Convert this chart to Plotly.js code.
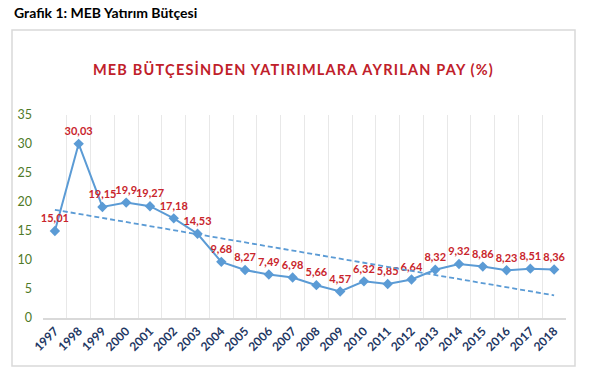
<!DOCTYPE html>
<html>
<head>
<meta charset="utf-8">
<script src="https://cdn.plot.ly/plotly-3.0.1.min.js"></script>
<style>html,body{margin:0;padding:0;background:#fff;} #chart{width:608px;height:376px;}</style>
</head>
<body>
<div id="chart"></div>
<script>
const years = ['1997','1998','1999','2000','2001','2002','2003','2004','2005','2006','2007','2008','2009','2010','2011','2012','2013','2014','2015','2016','2017','2018'];
const shares = [15.01,30.03,19.15,19.9,19.27,17.18,14.53,9.68,8.27,7.49,6.98,5.66,4.57,6.32,5.85,6.64,8.32,9.32,8.86,8.23,8.51,8.36];
const yTicks = [0,5,10,15,20,25,30,35];

const idx = years.map((_, i) => i);
// linear trend line (least squares) from the data
const n = shares.length;
const mx = idx.reduce((a,b)=>a+b,0)/n;
const my = shares.reduce((a,b)=>a+b,0)/n;
let sxy = 0, sxx = 0;
for (let i = 0; i < n; i++) { sxy += (idx[i]-mx)*(shares[i]-my); sxx += (idx[i]-mx)*(idx[i]-mx); }
const slope = sxy/sxx, icpt = my - slope*mx;
const trendX = [idx[0], idx[n-1]];
const trendY = trendX.map(x => icpt + slope*x);
const gridVals = idx.concat([n-1]).map(i => i - 0.5);

const FONT = 'Lato, "Open Sans", sans-serif';

const traces = [
  {
    x: trendX, y: trendY, xaxis: 'x2', yaxis: 'y', mode: 'lines',
    line: {color: '#5B9BD5', width: 1.8, dash: '5px,3px'}, hoverinfo: 'skip', showlegend: false
  },
  {
    x: idx, y: shares, mode: 'lines+markers+text',
    line: {color: '#5B9BD5', width: 2},
    marker: {symbol: 'diamond', size: 8, color: '#5B9BD5'},
    texttemplate: '%{y}', textposition: 'top center',
    textfont: {family: FONT, size: 11, color: '#C9252C', weight: 'bold'},
    cliponaxis: false, showlegend: false
  }
];

const pl = 43, pr = 566, pt = 115, pb = 318;
const W = pr - pl, H = pb - pt;
const px = v => (v - pl)/W, py = v => (pb - v)/H;

const layout = {
  width: 608, height: 376,
  margin: {l: pl, r: 608 - pr, t: pt, b: 376 - pb},
  paper_bgcolor: '#fff', plot_bgcolor: '#fff',
  separators: ',.',
  showlegend: false,
  title: {
    text: 'MEB BÜTÇESİNDEN YATIRIMLARA AYRILAN PAY (%)',
    font: {family: FONT, size: 14.5, color: '#C0202A', weight: 'bold'},
    x: 293.5/608, xanchor: 'center', y: 1 - 70/376, yanchor: 'middle'
  },
  xaxis: {
    range: [-0.5, n - 0.5], tickvals: idx, ticktext: years, tickangle: -45,
    showgrid: false, zeroline: false, showline: true, linecolor: '#D9D9D9', linewidth: 1.5,
    ticks: '', tickfont: {family: FONT, size: 12, color: '#1F3864', weight: 'bold'},
    fixedrange: true
  },
  xaxis2: {
    overlaying: 'x', range: [-0.5, n - 0.5], tickvals: gridVals, showticklabels: false,
    showgrid: true, gridcolor: '#E8E8E8', gridwidth: 1, zeroline: false, ticks: '', fixedrange: true
  },
  yaxis: {
    range: [0, 35], tickvals: yTicks, showgrid: false, zeroline: false, showline: false,
    ticks: '', ticklabelstandoff: 10,
    tickfont: {family: FONT, size: 12.5, color: '#4F7A28'}, fixedrange: true
  },
  shapes: [
    {type: 'rect', xref: 'paper', yref: 'paper', x0: px(12), x1: px(575), y0: py(366), y1: py(30),
     line: {color: '#D9D9D9', width: 1.5}, fillcolor: 'rgba(0,0,0,0)', layer: 'below'}
  ],
  annotations: [
    {text: '<b>Grafik 1: MEB Yatırım Bütçesi</b>', xref: 'paper', yref: 'paper',
     x: px(12), y: py(12), xanchor: 'left', yanchor: 'middle', showarrow: false,
     font: {family: FONT, size: 14, color: '#000'}}
  ]
};

Plotly.newPlot('chart', traces, layout, {staticPlot: true}).then(() => {
  document.querySelectorAll('.gtitle').forEach(e => { e.style.letterSpacing = '1.2px'; });
});
</script>
</body>
</html>
